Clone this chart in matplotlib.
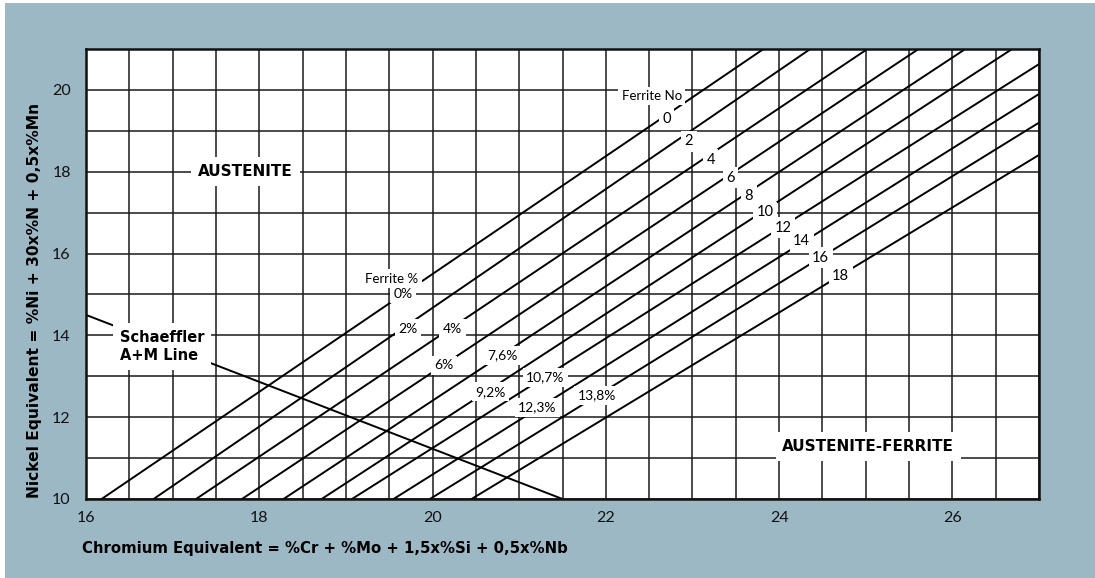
import numpy as np
import matplotlib.pyplot as plt
from matplotlib.patches import Rectangle

plt.rcParams['font.family'] = ['Lato', 'DejaVu Sans']

# ferrite number lines: start on Ni eq = 10, end on top/right edge
fn_numbers = [0, 2, 4, 6, 8, 10, 12, 14, 16, 18]
fn_x_start = [16.18, 16.78, 17.27, 17.80, 18.28, 18.72, 19.07, 19.55, 19.97, 20.45]
fn_x_end = [23.82, 24.36, 25.02, 25.61, 26.15, 26.69, 27.0, 27.0, 27.0, 27.0]
fn_y_end = [21.0, 21.0, 21.0, 21.0, 21.0, 21.0, 20.63, 19.90, 19.20, 18.41]

# label positions for the ferrite numbers
fn_label_x = [22.70, 22.96, 23.21, 23.44, 23.65, 23.84, 24.05, 24.26, 24.48, 24.71]
fn_label_y = [19.30, 18.74, 18.29, 17.85, 17.41, 17.01, 16.63, 16.30, 15.90, 15.46]

# ferrite percent labels
pct_labels = ['0%', '2%', '4%', '6%', '7,6%', '9,2%', '10,7%', '12,3%', '13,8%']
pct_x = [19.66, 19.72, 20.23, 20.13, 20.81, 20.67, 21.30, 21.21, 21.90]
pct_y = [15.02, 14.16, 14.16, 13.27, 13.51, 12.62, 12.98, 12.24, 12.54]

# Schaeffler A+M line
am_x = [16.0, 21.5]
am_y = [14.5, 10.0]

bg = '#9db8c5'
boldfont = ['DejaVu Sans']

fig = plt.figure(figsize=(10.95, 5.78), dpi=100)
fig.patch.set_facecolor('white')
fig.patches.append(Rectangle((5/1095, 0), 1, 1 - 3/578, transform=fig.transFigure,
                             facecolor=bg, edgecolor='none', zorder=-10))

ax = fig.add_axes([86/1095, 79/578, 953/1095, 450/578])
ax.set_facecolor('white')
ax.set_xlim(16, 27)
ax.set_ylim(10, 21)
ax.set_xticks(np.arange(16, 27, 2))
ax.set_xticks(np.arange(16, 27.01, 0.5), minor=True)
ax.set_yticks(np.arange(10, 21, 2))
ax.set_yticks(np.arange(10, 21.01, 1), minor=True)
ax.grid(which='both', color='#1a1a1a', linewidth=1.1)
ax.set_axisbelow(True)
ax.tick_params(which='both', length=0, labelsize=11.5, colors='#111111')
ax.tick_params(axis='x', pad=9)
ax.tick_params(axis='y', pad=11)
for s in ax.spines.values():
    s.set_linewidth(1.8)
    s.set_color('#111111')

# ferrite lines
for x0, x1, y1 in zip(fn_x_start, fn_x_end, fn_y_end):
    ax.plot([x0, x1], [10, y1], color='black', linewidth=1.4, zorder=2)

ax.plot(am_x, am_y, color='black', linewidth=1.4, zorder=2)

box = dict(facecolor='white', edgecolor='none', pad=2.5)

for n, x, y in zip(fn_numbers, fn_label_x, fn_label_y):
    ax.text(x, y, str(n), fontsize=10.5, ha='center', va='center', bbox=box, zorder=4)
ax.text(22.53, 19.85, 'Ferrite No', fontsize=9.5, ha='center', va='center', bbox=box, zorder=4)

for t, x, y in zip(pct_labels, pct_x, pct_y):
    ax.text(x, y, t, fontsize=10, ha='center', va='center', bbox=box, zorder=4)
ax.text(19.53, 15.38, 'Ferrite %', fontsize=9.5, ha='center', va='center', bbox=box, zorder=4)

big = dict(facecolor='white', edgecolor='none', pad=5)
ax.text(17.84, 18.0, 'AUSTENITE', fontsize=11, fontweight='bold', family=boldfont,
        ha='center', va='center', bbox=big, zorder=4)
ax.text(25.03, 11.28, 'AUSTENITE-FERRITE', fontsize=11, fontweight='bold', family=boldfont,
        ha='center', va='center', bbox=big, zorder=4)
ax.text(16.39, 13.73, 'Schaeffler\nA+M Line', fontsize=10.5, fontweight='bold', family=boldfont,
        ha='left', va='center', linespacing=1.3, bbox=big, zorder=4)

fig.text(82/1095, 1 - 548/578, 'Chromium Equivalent = %Cr + %Mo + 1,5x%Si + 0,5x%Nb',
         fontsize=10.75, fontweight='bold', family=boldfont, ha='left', va='center')
fig.text(35/1095, 1 - 498/578, 'Nickel Equivalent = %Ni + 30x%N + 0,5x%Mn',
         fontsize=11.2, fontweight='bold', family=boldfont, rotation=90,
         ha='center', va='bottom')

fig.savefig('out.png', dpi=100, facecolor=fig.get_facecolor())
